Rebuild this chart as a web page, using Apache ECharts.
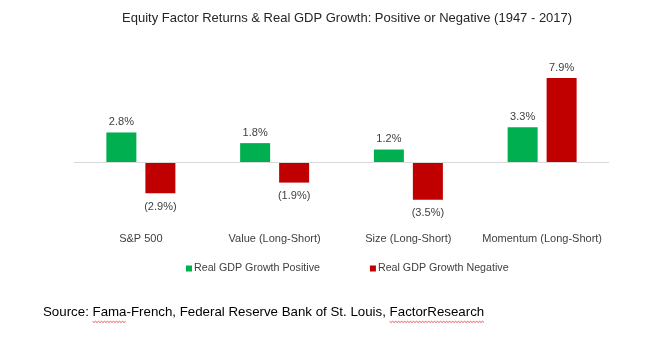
<!DOCTYPE html>
<html>
<head>
<meta charset="utf-8">
<script src="https://cdn.jsdelivr.net/npm/echarts@6/dist/echarts.min.js"></script>
<style>html,body{margin:0;padding:0;background:#fff;}#chart{width:650px;height:345px;}</style>
</head>
<body>
<div id="chart"></div>
<script>
const categories = ['S&P 500', 'Value (Long-Short)', 'Size (Long-Short)', 'Momentum (Long-Short)'];
const positiveGdp = [2.8, 1.8, 1.2, 3.3];
const negativeGdp = [-2.9, -1.9, -3.5, 7.9];
const seriesNames = ['Real GDP Growth Positive', 'Real GDP Growth Negative'];
const titleText = 'Equity Factor Returns & Real GDP Growth: Positive or Negative (1947 - 2017)';
const sourceText = 'Source: Fama-French, Federal Reserve Bank of St. Louis, FactorResearch';
const flaggedWords = ['Fama', 'FactorResearch'];

const FONT = 'Liberation Sans, Arial, sans-serif';
const SRC_SIZE = 13.3, SRC_LEFT = 43, SRC_TOP = 306;
function fmt(v) { return v < 0 ? '(' + Math.abs(v).toFixed(1) + '%)' : v.toFixed(1) + '%'; }
function toData(arr) {
  return arr.map(v => ({ value: v, label: { position: v < 0 ? 'bottom' : 'top', distance: v < 0 ? 8 : 5 } }));
}
// spell-check style squiggles under flagged words
const ctx = document.createElement('canvas').getContext('2d');
ctx.font = SRC_SIZE + 'px ' + FONT;
const squiggles = flaggedWords.map(w => {
  const idx = sourceText.indexOf(w);
  const x0 = SRC_LEFT + ctx.measureText(sourceText.slice(0, idx)).width;
  const x1 = x0 + ctx.measureText(w).width;
  const pts = [];
  const y = SRC_TOP + SRC_SIZE + 2;
  for (let x = x0, k = 0; x <= x1; x += 1.5, k++) pts.push([x, y + (k % 2 ? 1.2 : 0)]);
  return { type: 'polyline', silent: true, shape: { points: pts }, style: { stroke: '#e03030', lineWidth: 0.8, fill: null } };
});

const chart = echarts.init(document.getElementById('chart'), null, { renderer: 'canvas' });
const labelStyle = { show: true, color: '#404040', fontSize: 11, fontFamily: FONT, formatter: p => fmt(p.value) };
chart.setOption({
  animation: false,
  backgroundColor: '#fff',
  title: {
    text: titleText, left: 117, top: 7,
    textStyle: { fontSize: 13, fontWeight: 'normal', color: '#262626', fontFamily: FONT }
  },
  legend: {
    data: seriesNames, left: 181, top: 258, itemWidth: 6, itemHeight: 6, itemGap: 50,
    icon: 'rect',
    textStyle: { fontSize: 10.7, color: '#404040', fontFamily: FONT, padding: [0, 0, 0, -3] }
  },
  grid: { left: 74, right: 41, top: 77, height: 128 },
  xAxis: {
    type: 'category', data: categories,
    axisLine: { show: false }, axisTick: { show: false },
    axisLabel: { color: '#404040', fontSize: 11, fontFamily: FONT, margin: 28, interval: 0 }
  },
  yAxis: { type: 'value', min: -4, max: 8, interval: 2, show: false, splitLine: { show: false } },
  series: [
    {
      name: seriesNames[0], type: 'bar', data: toData(positiveGdp), barWidth: 30, barGap: '30%',
      itemStyle: { color: '#00B050' }, label: labelStyle,
      markLine: {
        silent: true, symbol: 'none', label: { show: false },
        lineStyle: { color: '#d9d9d9', width: 1, type: 'solid' },
        data: [{ yAxis: 0 }]
      }
    },
    {
      name: seriesNames[1], type: 'bar', data: toData(negativeGdp), barWidth: 30, barGap: '30%',
      itemStyle: { color: '#C00000' }, label: labelStyle
    }
  ],
  graphic: [
    { type: 'text', left: SRC_LEFT, top: SRC_TOP, style: { text: sourceText, fontSize: SRC_SIZE, fill: '#000', fontFamily: FONT } }
  ].concat(squiggles)
});
</script>
</body>
</html>
